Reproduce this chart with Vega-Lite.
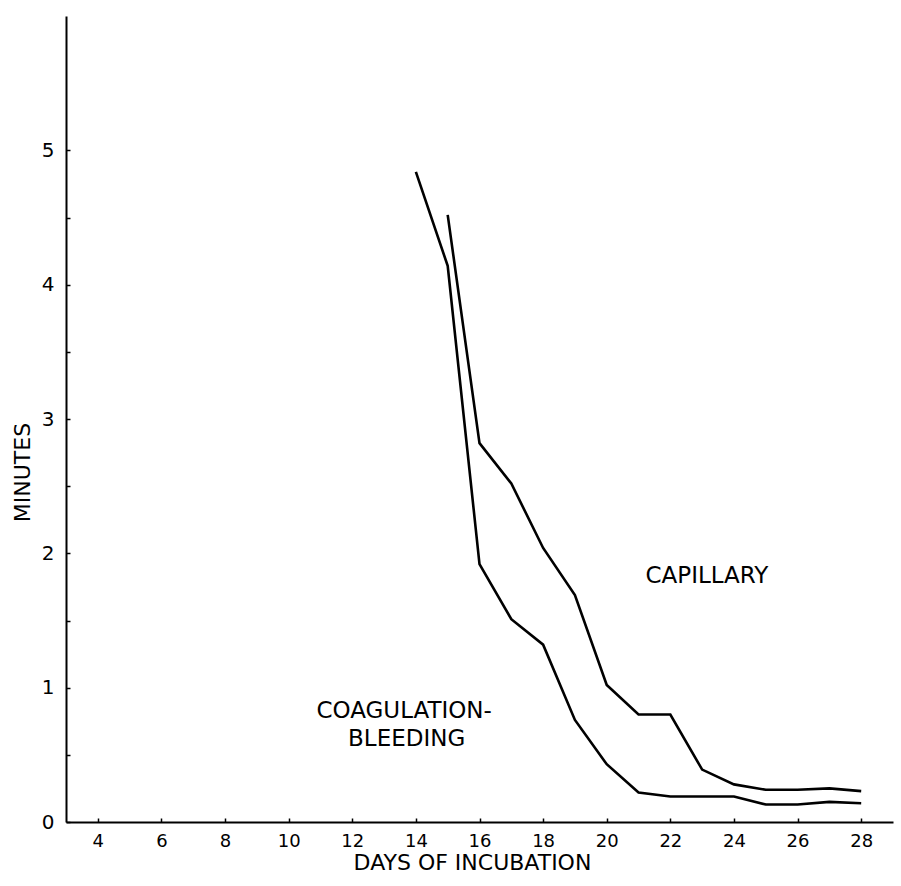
{
  "$schema": "https://vega.github.io/schema/vega-lite/v6.json",
  "width": 827,
  "height": 806,
  "autosize": "none",
  "padding": {"left": 66, "top": 16, "right": 8, "bottom": 64},
  "background": "white",
  "config": {
    "view": {"stroke": null},
    "font": "DejaVu Sans",
    "text": {"font": "DejaVu Sans"}
  },
  "datasets": {
    "series": [
      {"series": "Coagulation-bleeding", "day": 14, "minutes": 4.84},
      {"series": "Coagulation-bleeding", "day": 15, "minutes": 4.14},
      {"series": "Coagulation-bleeding", "day": 16, "minutes": 1.92},
      {"series": "Coagulation-bleeding", "day": 17, "minutes": 1.51},
      {"series": "Coagulation-bleeding", "day": 18, "minutes": 1.32},
      {"series": "Coagulation-bleeding", "day": 19, "minutes": 0.76},
      {"series": "Coagulation-bleeding", "day": 20, "minutes": 0.43},
      {"series": "Coagulation-bleeding", "day": 21, "minutes": 0.22},
      {"series": "Coagulation-bleeding", "day": 22, "minutes": 0.19},
      {"series": "Coagulation-bleeding", "day": 23, "minutes": 0.19},
      {"series": "Coagulation-bleeding", "day": 24, "minutes": 0.19},
      {"series": "Coagulation-bleeding", "day": 25, "minutes": 0.13},
      {"series": "Coagulation-bleeding", "day": 26, "minutes": 0.13},
      {"series": "Coagulation-bleeding", "day": 27, "minutes": 0.15},
      {"series": "Coagulation-bleeding", "day": 28, "minutes": 0.14},
      {"series": "Capillary", "day": 15, "minutes": 4.52},
      {"series": "Capillary", "day": 16, "minutes": 2.82},
      {"series": "Capillary", "day": 17, "minutes": 2.52},
      {"series": "Capillary", "day": 18, "minutes": 2.04},
      {"series": "Capillary", "day": 19, "minutes": 1.69},
      {"series": "Capillary", "day": 20, "minutes": 1.02},
      {"series": "Capillary", "day": 21, "minutes": 0.8},
      {"series": "Capillary", "day": 22, "minutes": 0.8},
      {"series": "Capillary", "day": 23, "minutes": 0.39},
      {"series": "Capillary", "day": 24, "minutes": 0.28},
      {"series": "Capillary", "day": 25, "minutes": 0.24},
      {"series": "Capillary", "day": 26, "minutes": 0.24},
      {"series": "Capillary", "day": 27, "minutes": 0.25},
      {"series": "Capillary", "day": 28, "minutes": 0.23}
    ],
    "labels": [
      {"label": "CAPILLARY", "day": 23.15, "minutes": 1.83},
      {"label": "COAGULATION-", "day": 13.63, "minutes": 0.83},
      {"label": "BLEEDING", "day": 13.71, "minutes": 0.62}
    ]
  },
  "layer": [
    {
      "data": {"name": "series"},
      "mark": {"type": "line", "color": "black", "strokeWidth": 2.6, "strokeJoin": "miter"},
      "encoding": {
        "x": {
          "field": "day",
          "type": "quantitative",
          "scale": {"domain": [3, 29], "nice": false, "zero": false},
          "axis": {
            "title": "DAYS OF INCUBATION",
            "values": [4, 5, 6, 7, 8, 9, 10, 11, 12, 13, 14, 15, 16, 17, 18, 19, 20, 21, 22, 23, 24, 25, 26, 27, 28],
            "labelExpr": "datum.value % 2 === 0 ? format(datum.value, 'd') : ''",
            "grid": false,
            "domainColor": "black",
            "domainWidth": 2,
            "tickColor": "black",
            "tickWidth": 1.5,
            "tickSize": -4,
            "labelFontSize": 18,
            "labelColor": "black",
            "labelPadding": 14,
            "labelFlush": false,
            "titleFontSize": 22,
            "titleFontWeight": "normal",
            "titleColor": "black",
            "titleX": 406,
            "titleY": 40,
            "titleBaseline": "middle",
            "titleAlign": "center"
          }
        },
        "y": {
          "field": "minutes",
          "type": "quantitative",
          "scale": {"domain": [0, 6], "nice": false},
          "axis": {
            "title": "MINUTES",
            "values": [0, 0.5, 1, 1.5, 2, 2.5, 3, 3.5, 4, 4.5, 5],
            "labelExpr": "datum.value % 1 === 0 ? format(datum.value, 'd') : ''",
            "grid": false,
            "domainColor": "black",
            "domainWidth": 2,
            "tickColor": "black",
            "tickWidth": 1.5,
            "tickSize": -4,
            "labelFontSize": 20,
            "labelColor": "black",
            "labelPadding": 16,
            "labelFlush": false,
            "titleFontSize": 22,
            "titleFontWeight": "normal",
            "titleColor": "black",
            "titleAngle": -90,
            "titleX": -44,
            "titleY": 456,
            "titleBaseline": "middle",
            "titleAlign": "center"
          }
        },
        "detail": {"field": "series"}
      }
    },
    {
      "data": {"name": "labels"},
      "mark": {"type": "text", "color": "black", "fontSize": 23, "align": "center", "baseline": "middle"},
      "encoding": {
        "x": {"field": "day", "type": "quantitative"},
        "y": {"field": "minutes", "type": "quantitative"},
        "text": {"field": "label"}
      }
    }
  ]
}
